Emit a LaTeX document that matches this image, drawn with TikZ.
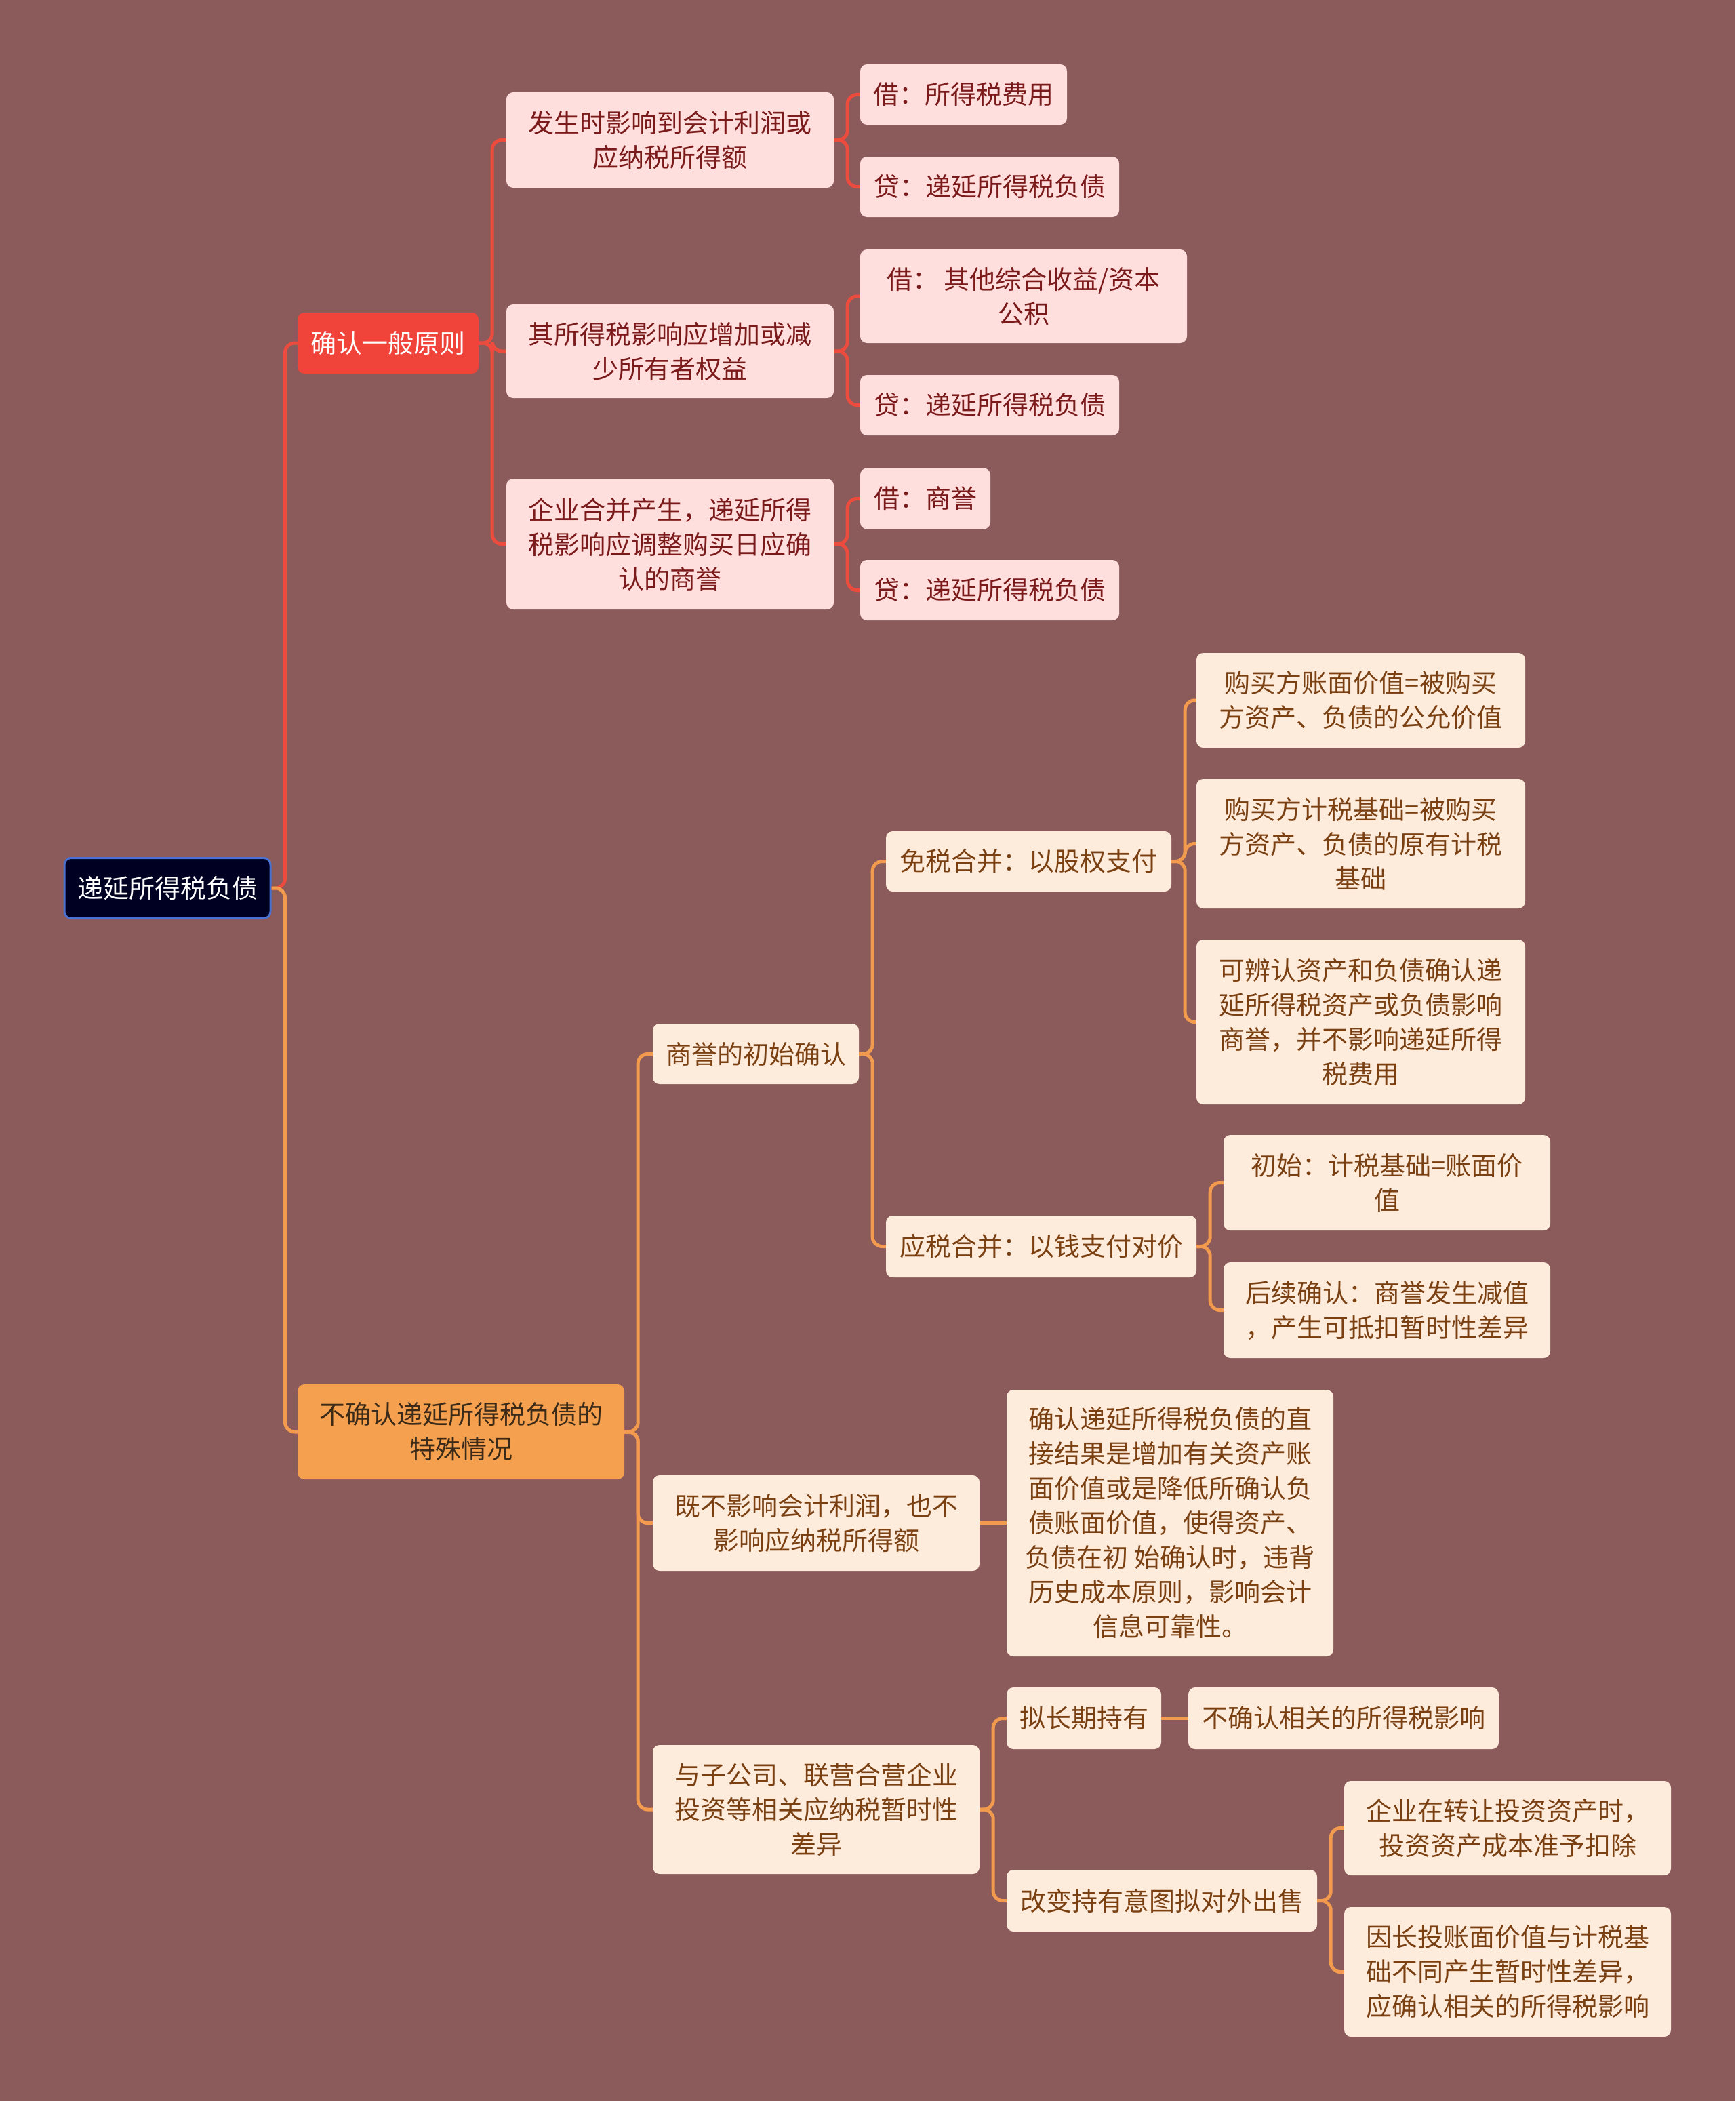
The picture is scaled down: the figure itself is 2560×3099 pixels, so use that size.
\documentclass[tikz,border=0pt]{standalone}
\usepackage{fontspec}
\setmainfont{Noto Sans CJK SC}
\definecolor{bg}{HTML}{8B5A5A}
\definecolor{rootfill}{HTML}{000022}
\definecolor{rootdraw}{HTML}{4A70D0}
\definecolor{redfill}{HTML}{F0443B}
\definecolor{orfill}{HTML}{F5A04E}
\definecolor{ortext}{HTML}{3B2A18}
\definecolor{pinkfill}{HTML}{FFDEDE}
\definecolor{pinktext}{HTML}{7B1A1A}
\definecolor{creamfill}{HTML}{FDEBDC}
\definecolor{creamtext}{HTML}{7A4012}
\definecolor{rlinec}{HTML}{EE4B3F}
\definecolor{olinec}{HTML}{F29B4F}
\tikzset{
  box/.style={rounded corners=10pt, inner sep=0pt, align=center, font=\fontsize{38}{51}\selectfont},
  rootbox/.style={box, fill=rootfill, draw=rootdraw, line width=3pt, text=white},
  redbox/.style={box, fill=redfill, text=white},
  orbox/.style={box, fill=orfill, text=ortext},
  pinkbox/.style={box, fill=pinkfill, text=pinktext},
  creambox/.style={box, fill=creamfill, text=creamtext},
  rline/.style={draw=rlinec, line width=5pt, rounded corners=14pt},
  oline/.style={draw=olinec, line width=5pt, rounded corners=14pt},
}
\newcommand\conn[3]{\draw[#1] (#2.east) -- ++(20,0) |- (#3.west);}
\newcommand\sconn[3]{\draw[#1] (#2.east) -- (#3.west);}
\begin{document}
\begin{tikzpicture}[x=1pt,y=-1pt]
\fill[bg] (0,0) rectangle (2560,3099);
\useasboundingbox (0,0) rectangle (2560,3099);

% root and main branches
\node[rootbox, minimum width=304pt, minimum height=89pt] (root) at (247,1310) {递延所得税负债};
\node[redbox, minimum width=267pt, minimum height=90pt] (b1) at (572.5,506) {确认一般原则};
\node[orbox, minimum width=482pt, minimum height=140pt] (b2) at (680,2112) {不确认递延所得税负债的\\特殊情况};

% branch 1 children
\node[pinkbox, minimum width=483pt, minimum height=141pt] (a1) at (988.5,206.5) {发生时影响到会计利润或\\应纳税所得额};
\node[pinkbox, minimum width=483pt, minimum height=138pt] (a2) at (988.5,518) {其所得税影响应增加或减\\少所有者权益};
\node[pinkbox, minimum width=483pt, minimum height=193pt] (a3) at (988.5,802.5) {企业合并产生，递延所得\\税影响应调整购买日应确\\认的商誉};

\node[pinkbox, minimum width=305pt, minimum height=89pt] (a1a) at (1421.5,139.5) {借：所得税费用};
\node[pinkbox, minimum width=382pt, minimum height=89pt] (a1b) at (1460,275.5) {贷：递延所得税负债};
\node[pinkbox, minimum width=482pt, minimum height=138pt] (a2a) at (1510,437) {借： 其他综合收益/资本\\公积};
\node[pinkbox, minimum width=382pt, minimum height=89pt] (a2b) at (1460,597.5) {贷：递延所得税负债};
\node[pinkbox, minimum width=192pt, minimum height=90pt] (a3a) at (1365,735.5) {借：商誉};
\node[pinkbox, minimum width=382pt, minimum height=89pt] (a3b) at (1460,870.5) {贷：递延所得税负债};

% branch 2 children
\node[creambox, minimum width=304pt, minimum height=89pt] (c1) at (1115,1554.5) {商誉的初始确认};
\node[creambox, minimum width=482pt, minimum height=141pt] (c2) at (1204,2246.5) {既不影响会计利润，也不\\影响应纳税所得额};
\node[creambox, minimum width=482pt, minimum height=190pt] (c3) at (1204,2669) {与子公司、联营合营企业\\投资等相关应纳税暂时性\\差异};

\node[creambox, minimum width=421pt, minimum height=89pt] (c1a) at (1517.5,1270.5) {免税合并：以股权支付};
\node[creambox, minimum width=458pt, minimum height=91pt] (c1b) at (1536,1838.5) {应税合并：以钱支付对价};

\node[creambox, minimum width=485pt, minimum height=140pt] (c1a1) at (2007.5,1033) {购买方账面价值=被购买\\方资产、负债的公允价值};
\node[creambox, minimum width=485pt, minimum height=191pt] (c1a2) at (2007.5,1244.5) {购买方计税基础=被购买\\方资产、负债的原有计税\\基础};
\node[creambox, minimum width=485pt, minimum height=243pt] (c1a3) at (2007.5,1507.5) {可辨认资产和负债确认递\\延所得税资产或负债影响\\商誉，并不影响递延所得\\税费用};

\node[creambox, minimum width=482pt, minimum height=141pt] (c1b1) at (2046,1744.5) {初始：计税基础=账面价\\值};
\node[creambox, minimum width=482pt, minimum height=141pt] (c1b2) at (2046,1932.5) {后续确认：商誉发生减值\\，产生可抵扣暂时性差异};

\node[creambox, minimum width=482pt, minimum height=393pt] (c2a) at (1726,2246.5) {确认递延所得税负债的直\\接结果是增加有关资产账\\面价值或是降低所确认负\\债账面价值，使得资产、\\负债在初 始确认时，违背\\历史成本原则，影响会计\\信息可靠性。};

\node[creambox, minimum width=228pt, minimum height=91pt] (c3a) at (1599,2534.5) {拟长期持有};
\node[creambox, minimum width=458pt, minimum height=91pt] (c3b) at (1714,2803.5) {改变持有意图拟对外出售};
\node[creambox, minimum width=458pt, minimum height=91pt] (c3a1) at (1982,2534.5) {不确认相关的所得税影响};
\node[creambox, minimum width=482pt, minimum height=139pt] (c3b1) at (2224,2696.5) {企业在转让投资资产时，\\投资资产成本准予扣除};
\node[creambox, minimum width=482pt, minimum height=191pt] (c3b2) at (2224,2908.5) {因长投账面价值与计税基\\础不同产生暂时性差异，\\应确认相关的所得税影响};

% connectors: red subtree
\conn{rline}{root}{b1}
\conn{rline}{b1}{a1}
\conn{rline}{b1}{a2}
\conn{rline}{b1}{a3}
\conn{rline}{a1}{a1a}
\conn{rline}{a1}{a1b}
\conn{rline}{a2}{a2a}
\conn{rline}{a2}{a2b}
\conn{rline}{a3}{a3a}
\conn{rline}{a3}{a3b}

% connectors: orange subtree
\conn{oline}{root}{b2}
\conn{oline}{b2}{c1}
\conn{oline}{b2}{c2}
\conn{oline}{b2}{c3}
\conn{oline}{c1}{c1a}
\conn{oline}{c1}{c1b}
\conn{oline}{c1a}{c1a1}
\conn{oline}{c1a}{c1a2}
\conn{oline}{c1a}{c1a3}
\conn{oline}{c1b}{c1b1}
\conn{oline}{c1b}{c1b2}
\sconn{oline}{c2}{c2a}
\conn{oline}{c3}{c3a}
\conn{oline}{c3}{c3b}
\sconn{oline}{c3a}{c3a1}
\conn{oline}{c3b}{c3b1}
\conn{oline}{c3b}{c3b2}
\end{tikzpicture}
\end{document}
